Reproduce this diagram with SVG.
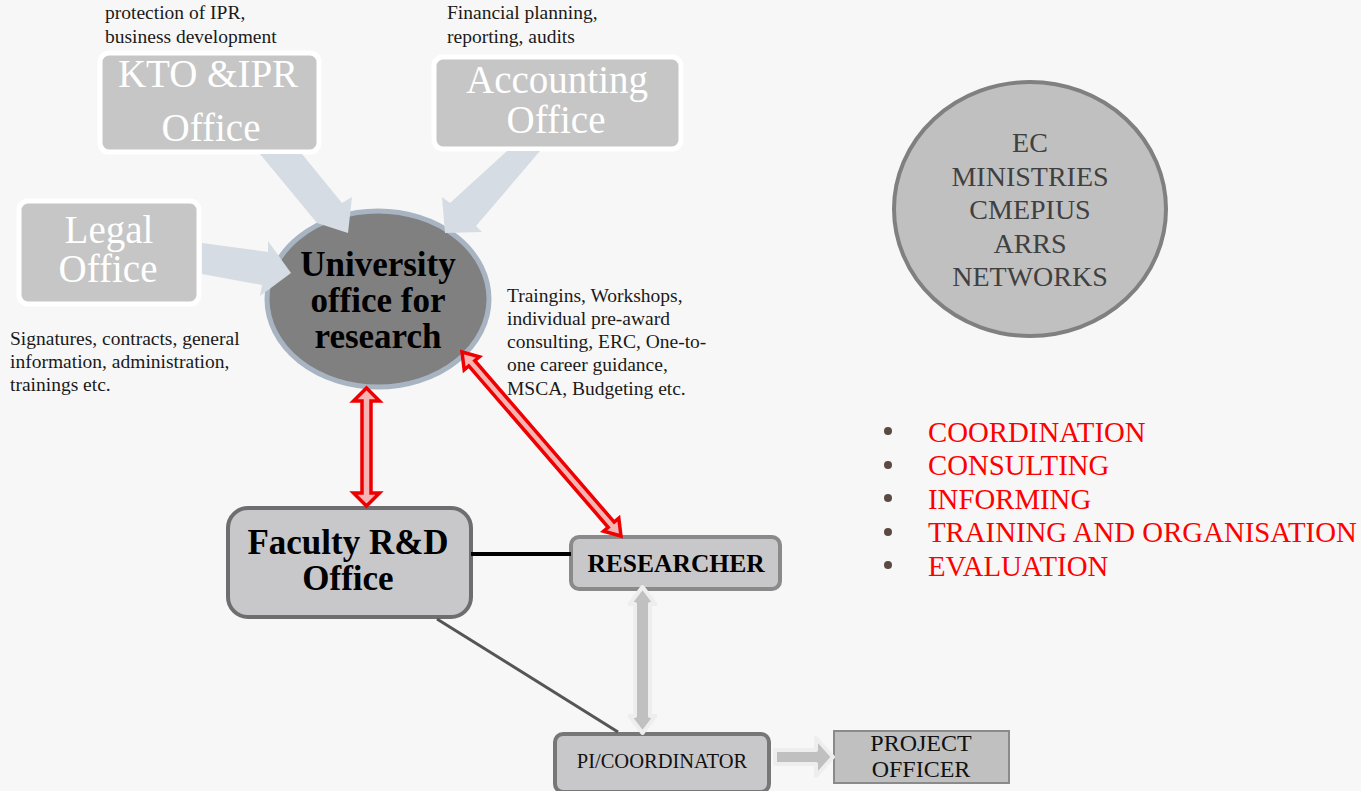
<svg xmlns="http://www.w3.org/2000/svg" width="1361" height="791" viewBox="0 0 1361 791">
<defs>
<style>
.note{font-family:"Liberation Serif","Times New Roman",serif;font-size:19.5px;fill:#1a1a1a}
.office{fill:#c6c6c6;stroke:#ffffff;stroke-width:5}
.officeText{font-family:"Liberation Serif","Times New Roman",serif;font-size:39px;fill:#ffffff;text-anchor:middle}
.feed{fill:#d6dce3}
.red{fill:#f7b4b4;stroke:#ee0000;stroke-width:3.5;stroke-linejoin:miter}
.grayArrow{fill:#c0c0c0;stroke:#eeeeee;stroke-width:4;stroke-linejoin:round}
.box{fill:#c8c8ca}
.bold{font-family:"Liberation Serif","Times New Roman",serif;font-weight:bold;fill:#000;text-anchor:middle}
.plain{font-family:"Liberation Serif","Times New Roman",serif;fill:#111;text-anchor:middle}
.ecText{font-family:"Liberation Serif","Times New Roman",serif;font-size:28px;fill:#404040;text-anchor:middle}
.bullet{font-family:"Liberation Serif","Times New Roman",serif;font-size:28.8px;fill:#ff0000}
</style>
</defs>
<rect x="0" y="0" width="1361" height="791" fill="#f7f7f7"/>

<g id="annotations">
<text class="note" x="105" y="19">protection of IPR,</text>
<text class="note" x="105" y="43">business development</text>
<text class="note" x="447" y="19">Financial planning,</text>
<text class="note" x="447" y="43">reporting, audits</text>
<text class="note" x="10" y="345">Signatures, contracts, general</text>
<text class="note" x="10" y="368">information, administration,</text>
<text class="note" x="10" y="391">trainings etc.</text>
<text class="note" x="507" y="302">Traingins, Workshops,</text>
<text class="note" x="507" y="325">individual pre-award</text>
<text class="note" x="507" y="348">consulting, ERC, One-to-</text>
<text class="note" x="507" y="371">one career guidance,</text>
<text class="note" x="507" y="395">MSCA, Budgeting etc.</text>
</g>

<g id="kto">
<rect class="office" x="100" y="53" width="219" height="99" rx="9"/>
<text class="officeText" x="208" y="87">KTO &amp;IPR</text>
<text class="officeText" x="211" y="141">Office</text>
</g>
<g id="accounting">
<rect class="office" x="434" y="57" width="247" height="92" rx="9"/>
<text class="officeText" x="557" y="93">Accounting</text>
<text class="officeText" x="556" y="133">Office</text>
</g>
<g id="legal">
<rect class="office" x="19" y="201" width="180" height="103" rx="9"/>
<text class="officeText" x="109" y="243">Legal</text>
<text class="officeText" x="108" y="282">Office</text>
</g>

<g id="university">
<ellipse cx="378" cy="299" rx="111" ry="88" fill="#808080" stroke="#a8b4c2" stroke-width="5"/>
<text class="bold" x="378" y="276" font-size="35">University</text>
<text class="bold" x="378" y="312" font-size="35">office for</text>
<text class="bold" x="378" y="348" font-size="35">research</text>
</g>

<g id="ec">
<ellipse cx="1030" cy="209" rx="136" ry="127" fill="#c0c0c0" stroke="#808080" stroke-width="4"/>
<text class="ecText" x="1030" y="152">EC</text>
<text class="ecText" x="1030" y="186">MINISTRIES</text>
<text class="ecText" x="1030" y="219">CMEPIUS</text>
<text class="ecText" x="1030" y="253">ARRS</text>
<text class="ecText" x="1030" y="286">NETWORKS</text>
</g>

<g id="roles">
<circle cx="888" cy="431" r="4" fill="#5a4a42"/>
<circle cx="888" cy="465" r="4" fill="#5a4a42"/>
<circle cx="888" cy="498" r="4" fill="#5a4a42"/>
<circle cx="888" cy="532" r="4" fill="#5a4a42"/>
<circle cx="888" cy="565" r="4" fill="#5a4a42"/>
<text class="bullet" x="928" y="442">COORDINATION</text>
<text class="bullet" x="928" y="475">CONSULTING</text>
<text class="bullet" x="928" y="509">INFORMING</text>
<text class="bullet" x="928" y="542">TRAINING AND ORGANISATION</text>
<text class="bullet" x="928" y="576">EVALUATION</text>
</g>

<g id="faculty">
<rect class="box" x="228" y="508" width="243" height="109" rx="20" stroke="#6e6e70" stroke-width="4"/>
<text class="bold" x="348" y="554" font-size="35">Faculty R&amp;D</text>
<text class="bold" x="348" y="590" font-size="35">Office</text>
</g>
<g id="researcher">
<rect class="box" x="571" y="537" width="209" height="52" rx="8" stroke="#8a8a8a" stroke-width="4"/>
<text class="bold" x="676" y="572" font-size="25.5">RESEARCHER</text>
</g>
<g id="pi">
<rect class="box" x="555" y="734" width="214" height="58" rx="8" stroke="#777777" stroke-width="4"/>
<text class="plain" x="662" y="768" font-size="20.5">PI/COORDINATOR</text>
</g>
<g id="project-officer">
<rect x="834" y="731" width="175" height="52" fill="#c0c0c0" stroke="#8a8a8a" stroke-width="2"/>
<text class="plain" x="921" y="751" font-size="24">PROJECT</text>
<text class="plain" x="921" y="777" font-size="24">OFFICER</text>
</g>

<g id="connectors">
<polygon class="feed" points="260,154 302,154 342,203 352,197 348,233 317,223"/>
<polygon class="feed" points="507,151 540,151 476,226 482,232 445,233 442,197 450,203"/>
<polygon class="feed" points="202,243 268,252 268,241 291,273 260,296 262,285 202,274"/>
<polygon class="red" points="366.5,388 379.5,401 371,401 371,493 379.5,493 366.5,506 353.5,493 362,493 362,401 353.5,401"/>
<polygon class="red" points="462,352 479.4,356.8 474.8,360.7 614.2,522.1 618.8,518.2 621,536 603.6,531.2 608.2,527.3 468.8,365.9 464.2,369.8"/>
<line x1="471" y1="554" x2="571" y2="554" stroke="#000" stroke-width="4"/>
<line x1="437" y1="619" x2="618" y2="732" stroke="#555" stroke-width="3"/>
<polygon class="grayArrow" points="642.5,587 655.5,604 650,604 650,716 655.5,716 642.5,733 629.5,716 635,716 635,604 629.5,604"/>
<polygon class="grayArrow" points="775,750 816,750 816,738 833,757 816,776 816,764 775,764"/>
</g>
</svg>
